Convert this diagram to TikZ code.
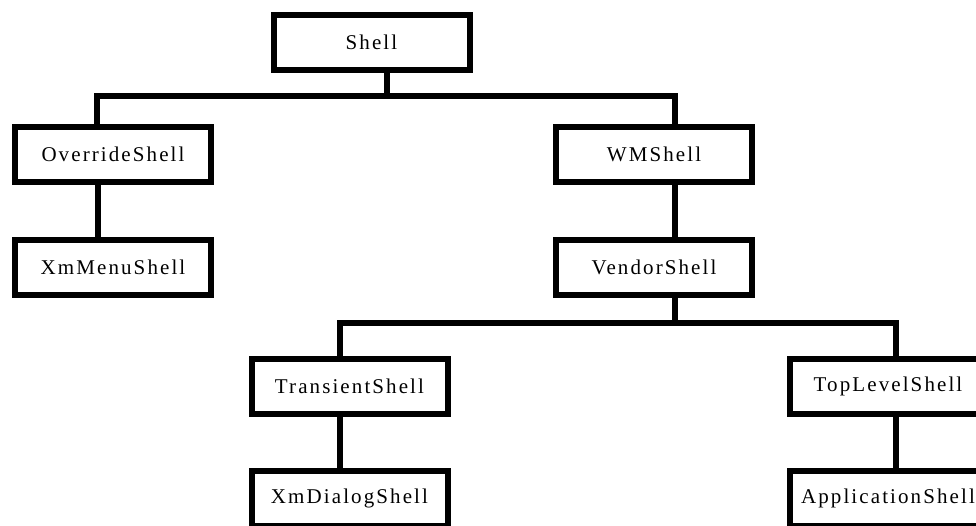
\documentclass[tikz,border=0pt]{standalone}
\usepackage{fontspec}
\setmainfont{Liberation Serif}[LetterSpace=10]
\begin{document}
\begin{tikzpicture}[x=1pt,y=-1pt,
  classbox/.style={draw=black,line width=6pt,fill=white,minimum width=196pt,
    minimum height=55pt,inner sep=0pt,font=\fontsize{21}{25}\selectfont},
  link/.style={draw=black,line width=6pt}]
\clip (0,0) rectangle (976,525);
\fill[white] (0,0) rectangle (976,525);

% bus junctions of the class tree
\coordinate (bus1) at (387,96);
\coordinate (bus2) at (675,323);

% classes
\node[classbox] (shell)  at (371.5,42.5) {Shell};
\node[classbox] (over)   at (113,154.5)  {OverrideShell};
\node[classbox] (wm)     at (654,154.5)  {WMShell};
\node[classbox] (menu)   at (113,267.5)  {XmMenuShell};
\node[classbox] (vendor) at (654,267.5)  {VendorShell};
\node[classbox] (trans)  at (349.5,386)  {TransientShell};
\node[classbox] (top)    at (888,386)    {TopLevelShell};
\node[classbox] (dialog) at (349.5,498.5) {XmDialogShell};
\node[classbox] (app)    at (888,498.5)  {ApplicationShell};

% inheritance links
\draw[link] ([xshift=15.5pt]shell.south) -- (bus1);
\draw[link] ([xshift=-16pt]over.north) |- (bus1) -| ([xshift=21pt]wm.north);
\draw[link] ([xshift=-15pt]over.south) -- ([xshift=-15pt]menu.north);
\draw[link] ([xshift=21pt]wm.south) -- ([xshift=21pt]vendor.north);
\draw[link] ([xshift=21pt]vendor.south) -- (bus2);
\draw[link] ([xshift=-9.5pt]trans.north) |- (bus2) -| ([xshift=8pt]top.north);
\draw[link] ([xshift=-9.5pt]trans.south) -- ([xshift=-9.5pt]dialog.north);
\draw[link] ([xshift=8pt]top.south) -- ([xshift=8pt]app.north);
\end{tikzpicture}
\end{document}
